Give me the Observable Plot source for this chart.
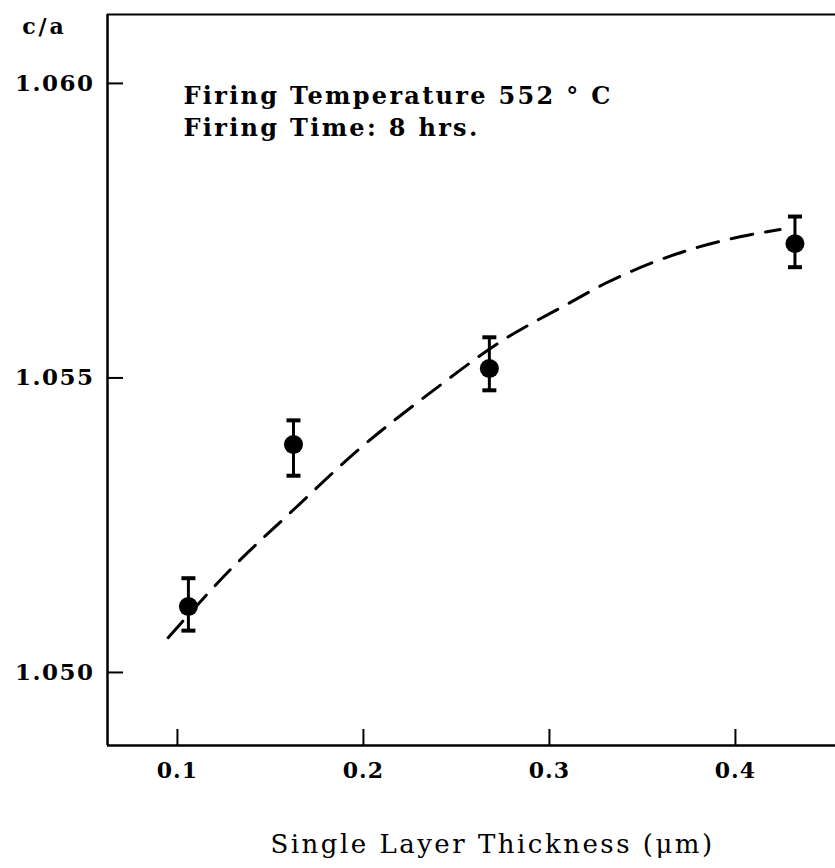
<!DOCTYPE html>
<html>
<head>
<meta charset="utf-8">
<script src="https://cdn.jsdelivr.net/npm/d3@7"></script>
<script src="https://cdn.jsdelivr.net/npm/@observablehq/plot@0.6"></script>
<style>
  html, body { margin: 0; padding: 0; background: white; }
  #chart svg { display: block; }
</style>
</head>
<body>
<div id="chart"></div>
<script>
// Tick values
const xTicks = [0.1, 0.2, 0.3, 0.4];
const yTicks = [1.050, 1.055, 1.060];
const xDomain = [0.0624, 0.4538];
const yDomain = [1.04876, 1.06117];

// Measured points (single layer thickness in µm, c/a ratio) with error bars
const thickness = [0.1059, 0.1624, 0.2677, 0.4320];
const ratio     = [1.05112, 1.05387, 1.05516, 1.05728];
const errLow    = [1.05071, 1.05334, 1.05479, 1.05688];
const errHigh   = [1.05160, 1.05428, 1.05569, 1.05774];

// Dashed fit curve
const fitX = [0.095, 0.128, 0.162, 0.198, 0.236, 0.275, 0.310, 0.331, 0.354, 0.380, 0.403, 0.424];
const fitY = [1.05059, 1.05173, 1.05275, 1.05380, 1.05475, 1.05564, 1.05626, 1.05662, 1.05694, 1.05722, 1.05740, 1.05752];

// Texts
const yLabel = "c/a";
const xLabel = "Single Layer Thickness (μm)";
const note = "Firing Temperature 552 ° C\nFiring Time: 8 hrs.";

const points = thickness.map((t, i) => ({t, c: ratio[i], lo: errLow[i], hi: errHigh[i]}));
const fit = fitX.map((x, i) => ({x, y: fitY[i]}));

const capSymbol = {
  draw(ctx, size) {
    const r = Math.sqrt(size / Math.PI);
    ctx.moveTo(-r, 0);
    ctx.lineTo(r, 0);
  }
};

const serif = "'DejaVu Serif', serif";

const chart = Plot.plot({
  width: 835,
  height: 868,
  marginLeft: 107,
  marginRight: 0,
  marginTop: 14,
  marginBottom: 123,
  x: {domain: xDomain, axis: null},
  y: {domain: yDomain, axis: null},
  style: {fontFamily: serif, background: "white", color: "black"},
  marks: [
    // frame (left, bottom, top)
    Plot.ruleX([xDomain[0]], {stroke: "black", strokeWidth: 2.5}),
    Plot.ruleY([yDomain[0]], {stroke: "black", strokeWidth: 2.5}),
    Plot.ruleY([yDomain[1]], {stroke: "black", strokeWidth: 2}),
    // inward ticks
    Plot.axisY(yTicks, {tickSize: -16, tickFormat: () => "", stroke: "black", strokeWidth: 2, label: null}),
    Plot.axisX(xTicks, {tickSize: -16, tickFormat: () => "", stroke: "black", strokeWidth: 2, label: null}),
    // tick labels
    Plot.axisY(yTicks, {tickSize: 0, tickPadding: 13, tickFormat: d3.format(".3f"), fontSize: 23, fontWeight: "bold", fill: "black", label: null}),
    Plot.axisX(xTicks, {tickSize: 0, tickPadding: 17, tickFormat: d3.format(".1f"), fontSize: 22, fontWeight: "bold", fill: "black", label: null}),
    // axis titles
    Plot.text([yLabel], {frameAnchor: "top-left", dx: -63, dy: 12, text: d => d, fontSize: 22, fontWeight: "bold", textAnchor: "middle", lineAnchor: "middle", fill: "black"}),
    Plot.text([xLabel], {frameAnchor: "bottom", dx: 21, dy: 99, text: d => d, fontSize: 26, lineAnchor: "middle", fill: "black"}),
    // annotation
    Plot.text([note], {frameAnchor: "top-left", dx: 76, dy: 67, text: d => d, fontSize: 24, fontWeight: "bold", textAnchor: "start", lineAnchor: "top", lineHeight: 1.33, fill: "black"}),
    // dashed fit
    Plot.line(fit, {x: "x", y: "y", curve: "monotone-x", stroke: "black", strokeWidth: 3, strokeDasharray: "22,13"}),
    // error bars
    Plot.ruleX(points, {x: "t", y1: "lo", y2: "hi", stroke: "black", strokeWidth: 3}),
    Plot.dot(points, {x: "t", y: "lo", symbol: capSymbol, r: 7, stroke: "black", strokeWidth: 4, fill: "none"}),
    Plot.dot(points, {x: "t", y: "hi", symbol: capSymbol, r: 7, stroke: "black", strokeWidth: 4, fill: "none"}),
    // data points
    Plot.dot(points, {x: "t", y: "c", r: 9.5, fill: "black", stroke: "none"})
  ]
});

// widen the lettering to match the extended typeface of the original
const spacing = new Map([
  [yLabel, "3px"],
  [xLabel, "2.5px"],
  [note, "2.3px"]
]);
chart.querySelectorAll('g[aria-label="y-axis tick label"] text').forEach(t => t.style.letterSpacing = "1.5px");
chart.querySelectorAll('g[aria-label="x-axis tick label"] text').forEach(t => t.style.letterSpacing = "1px");
chart.querySelectorAll('g[aria-label="text"] text').forEach(t => {
  const s = t.textContent;
  if (s === yLabel) t.style.letterSpacing = spacing.get(yLabel);
  else if (s === xLabel) t.style.letterSpacing = spacing.get(xLabel);
  else if (s.startsWith("Firing")) t.style.letterSpacing = spacing.get(note);
});

document.getElementById("chart").appendChild(chart);
</script>
</body>
</html>
